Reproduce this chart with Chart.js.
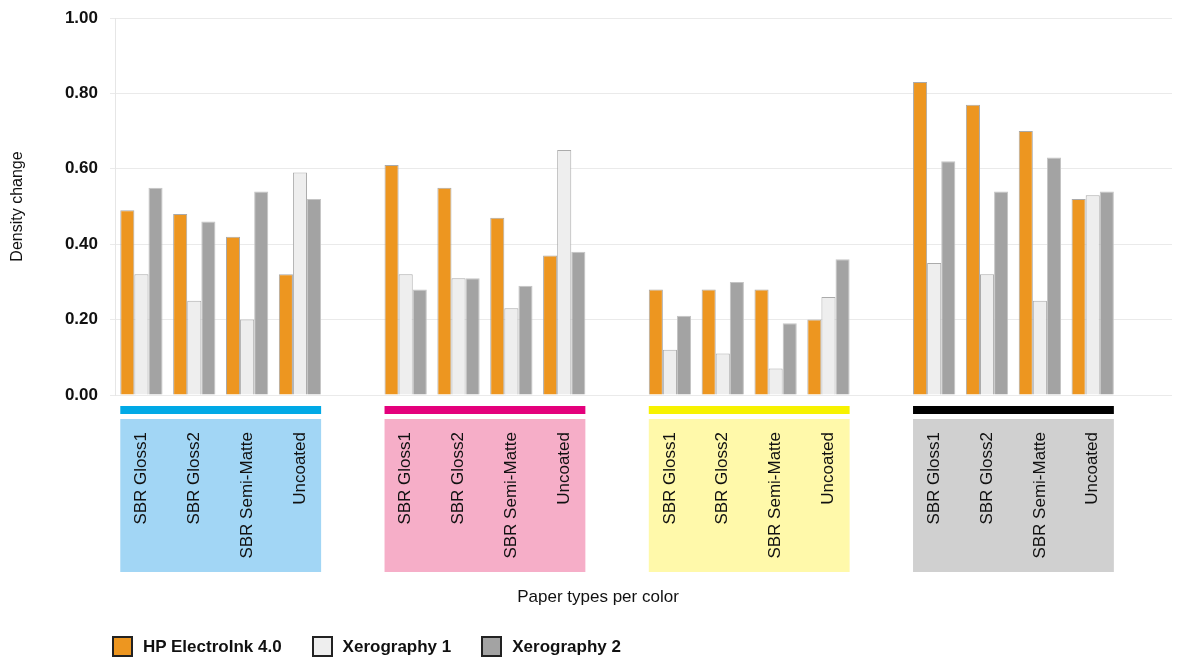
<!DOCTYPE html>
<html>
<head>
<meta charset="utf-8">
<script src="https://cdn.jsdelivr.net/npm/chart.js@4.4.1/dist/chart.umd.min.js"></script>
<style>
    body { margin: 0; background: #fff; }
    #wrap { position: relative; width: 1184px; height: 667px; }
    #legend {
        position: absolute; left: 112px; top: 636px; display: flex;
        font: bold 17px "Liberation Sans", Arial, sans-serif; color: #111;
    }
    #legend .item { display: flex; align-items: center; margin-right: 30px; }
    #legend .swatch { width: 17px; height: 17px; border: 2px solid #222; margin-right: 10px; }
</style>
</head>
<body>
<div id="wrap">
    <canvas id="chart"></canvas>
    <div id="legend"></div>
</div>
<script>
// --- Data ---
const colorGroups = ['Cyan', 'Magenta', 'Yellow', 'Black'];
const paperTypes = ['SBR Gloss1', 'SBR Gloss2', 'SBR Semi-Matte', 'Uncoated'];
const seriesNames = ['HP ElectroInk 4.0', 'Xerography 1', 'Xerography 2'];
const yTicks = [0, 0.2, 0.4, 0.6, 0.8, 1.0];

// per color group: Gloss1, Gloss2, Semi-Matte, Uncoated
const electroInk = [0.49, 0.48, 0.42, 0.32,  0.61, 0.55, 0.47, 0.37,  0.28, 0.28, 0.28, 0.20,  0.83, 0.77, 0.70, 0.52];
const xerography1 = [0.32, 0.25, 0.20, 0.59,  0.32, 0.31, 0.23, 0.65,  0.12, 0.11, 0.07, 0.26,  0.35, 0.32, 0.25, 0.53];
const xerography2 = [0.55, 0.46, 0.54, 0.52,  0.28, 0.31, 0.29, 0.38,  0.21, 0.30, 0.19, 0.36,  0.62, 0.54, 0.63, 0.54];

// --- Styles ---
const FONT = '"Liberation Sans", Arial, sans-serif';
const barFill = ['#ED9620', '#EEEEEE', '#A3A3A3'];
const barBorder = ['#A9A9A9', '#ABABAB', '#C4C4C4'];
const stripColors = ['#00A9E6', '#E4007C', '#F7F200', '#000000'];
const boxColors = ['#A2D6F5', '#F6AEC8', '#FFF9AA', '#D0D0D0'];

// one empty slot after each color group
const labels = [];
colorGroups.forEach(() => { labels.push(...paperTypes, ''); });
const withGaps = arr => {
    const out = [];
    colorGroups.forEach((g, i) => {
        out.push(...arr.slice(i * paperTypes.length, (i + 1) * paperTypes.length), null);
    });
    return out;
};
const seriesValues = [electroInk, xerography1, xerography2];

// colored strips + label boxes under each group, plus x title
const groupBands = {
    id: 'groupBands',
    beforeDraw(chart) {
        const { ctx } = chart;
        const x = chart.scales.x;
        const slot = x.getPixelForValue(1) - x.getPixelForValue(0);
        const step = paperTypes.length + 1;
        ctx.save();
        colorGroups.forEach((g, i) => {
            const left = x.getPixelForValue(i * step) - slot * 0.4;
            const right = x.getPixelForValue(i * step + paperTypes.length - 1) + slot * 0.4;
            ctx.fillStyle = stripColors[i];
            ctx.fillRect(left, x.top + 11, right - left, 8);
            ctx.fillStyle = boxColors[i];
            ctx.fillRect(left, x.top + 24, right - left, 153);
        });
        ctx.restore();
    },
    afterDraw(chart) {
        const { ctx } = chart;
        ctx.save();
        ctx.font = '17px ' + FONT;
        ctx.fillStyle = '#111';
        ctx.textAlign = 'center';
        ctx.textBaseline = 'middle';
        ctx.fillText('Paper types per color', 598, 597);
        ctx.restore();
    }
};

new Chart(document.getElementById('chart'), {
    type: 'bar',
    data: {
        labels: labels,
        datasets: seriesNames.map((name, i) => ({
            label: name,
            data: withGaps(seriesValues[i]),
            backgroundColor: barFill[i],
            borderColor: barBorder[i],
            borderWidth: 1,
            categoryPercentage: 0.8,
            barPercentage: 1.0
        }))
    },
    options: {
        responsive: true,
        maintainAspectRatio: false,
        animation: false,
        layout: { padding: { top: 18, left: 8, right: 12, bottom: 92 } },
        plugins: {
            legend: { display: false },
            tooltip: { enabled: false }
        },
        scales: {
            x: {
                grid: { display: false, drawTicks: false },
                border: { display: false },
                ticks: {
                    autoSkip: false,
                    minRotation: 90,
                    maxRotation: 90,
                    padding: 37,
                    color: '#111',
                    font: { family: FONT, size: 17 }
                },
                afterFit: scale => {
                    scale.height = 180;
                    scale.paddingLeft = 0;
                    scale.paddingRight = 0;
                }
            },
            y: {
                min: 0,
                max: 1,
                afterBuildTicks: scale => { scale.ticks = yTicks.map(v => ({ value: v })); },
                grid: { color: '#EAEAEA', tickLength: 5 },
                border: { color: '#E6E6E6' },
                ticks: {
                    padding: 12,
                    color: '#111',
                    font: { family: FONT, size: 17, weight: 'bold' },
                    callback: v => v.toFixed(2)
                },
                title: {
                    display: true,
                    text: 'Density change',
                    color: '#111',
                    padding: 0,
                    font: { family: FONT, size: 16 }
                },
                afterFit: scale => {
                    scale.width = 107;
                    scale.paddingTop = 0;
                    scale.paddingBottom = 0;
                }
            }
        }
    },
    plugins: [groupBands]
});

// --- Legend ---
document.getElementById('legend').innerHTML = seriesNames.map((name, i) => `
    <div class="item"><span class="swatch" style="background:${barFill[i]}"></span>${name}</div>
`).join('');
</script>
</body>
</html>
